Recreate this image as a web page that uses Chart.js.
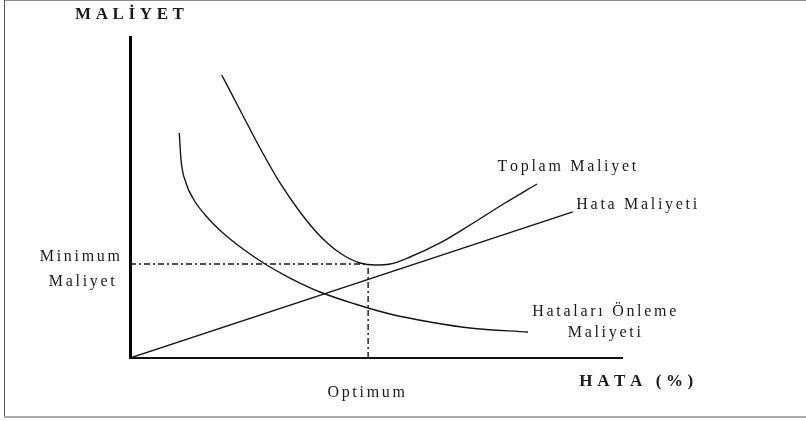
<!DOCTYPE html>
<html>
<head>
<meta charset="utf-8">
<script src="https://cdn.jsdelivr.net/npm/chart.js@4/dist/chart.umd.min.js"></script>
<style>
  html, body { margin: 0; padding: 0; background: #fff; }
  canvas { display: block; }
</style>
</head>
<body>
<canvas id="costChart" width="806" height="421"></canvas>
<script>
// Maliyet eğrileri (x: hata oranı, y: maliyet; eksen 0-100 birim)
const toplamX = [18.64, 22.36, 26.42, 30.49, 34.55, 38.62, 42.68, 46.75, 49.80, 52.85, 56.91, 63.01, 69.11, 76.22, 82.72];
const toplamY = [88.16, 77.26, 65.42, 54.52, 45.48, 38.01, 32.71, 29.60, 28.97, 29.28, 31.46, 35.83, 41.43, 48.29, 54.21];

const onlemeX = [10.02, 10.37, 11.38, 13.01, 15.65, 18.90, 22.97, 27.44, 32.52, 38.62, 45.73, 52.85, 60.98, 69.11, 80.89];
const onlemeY = [70.09, 61.68, 54.52, 49.22, 43.93, 38.94, 33.96, 29.28, 24.92, 20.56, 16.82, 13.71, 11.21, 9.35, 8.10];

const hataX = [0, 90.0];
const hataY = [0, 45.5];

// optimum nokta
const optimumX = 48.4;
const minMaliyet = 29.3;

const toPoints = (xs, ys) => xs.map((x, i) => ({ x: x, y: ys[i] }));

// metin etiketleri (veri koordinatında merkez)
const etiketler = [
    { text: 'MALİYET', x: -0.1, y: 106.9, bold: true },
    { text: 'HATA (%)', x: 102.9, y: -7.5, bold: true },
    { text: 'Optimum', x: 48.0, y: -10.9 },
    { text: 'Minimum', x: -10.2, y: 31.5 },
    { text: 'Maliyet', x: -9.8, y: 23.7 },
    { text: 'Toplam Maliyet', x: 88.8, y: 59.5 },
    { text: 'Hata Maliyeti', x: 103.0, y: 47.7 },
    { text: 'Hataları Önleme', x: 96.4, y: 14.3 },
    { text: 'Maliyeti', x: 96.4, y: 7.8 }
];

function spacedText(ctx, text, cx, cy, spacing) {
    const widths = [...text].map(ch => ctx.measureText(ch).width);
    const total = widths.reduce((a, b) => a + b, 0) + spacing * (widths.length - 1);
    let x = cx - total / 2;
    [...text].forEach((ch, i) => {
        ctx.fillText(ch, x, cy);
        x += widths[i] + spacing;
    });
}

const cercevePlugin = {
    id: 'cerceve',
    beforeDraw(chart) {
        const ctx = chart.ctx;
        ctx.save();
        ctx.fillStyle = '#fff';
        ctx.fillRect(0, 0, chart.width, chart.height);
        ctx.lineWidth = 1;
        ctx.strokeStyle = '#8a8a8a';
        ctx.beginPath(); ctx.moveTo(4, 0.5); ctx.lineTo(chart.width, 0.5); ctx.stroke();
        ctx.strokeStyle = '#555';
        ctx.beginPath(); ctx.moveTo(4.5, 0); ctx.lineTo(4.5, 417); ctx.stroke();
        ctx.lineWidth = 2;
        ctx.strokeStyle = '#aaa';
        ctx.beginPath(); ctx.moveTo(4, 417); ctx.lineTo(chart.width, 417); ctx.stroke();
        ctx.restore();
    }
};

const etiketPlugin = {
    id: 'etiketler',
    afterDraw(chart) {
        const ctx = chart.ctx;
        const sx = chart.scales.x, sy = chart.scales.y;
        ctx.save();
        ctx.fillStyle = '#1a1a1a';
        ctx.textBaseline = 'middle';
        ctx.textAlign = 'left';
        etiketler.forEach(e => {
            ctx.font = e.bold ? "bold 17px 'Liberation Serif'" : "16px 'Liberation Serif'";
            spacedText(ctx, e.text, sx.getPixelForValue(e.x), sy.getPixelForValue(e.y), e.bold ? 4.6 : 2.7);
        });
        ctx.restore();
    }
};

const cizgi = { borderColor: '#151515', borderWidth: 1.4, pointRadius: 0, fill: false, cubicInterpolationMode: 'monotone' };
const kesik = { borderColor: '#151515', borderWidth: 1.4, pointRadius: 0, fill: false, borderDash: [6, 3, 2, 3] };

new Chart(document.getElementById('costChart').getContext('2d'), {
    type: 'line',
    data: {
        datasets: [
            Object.assign({ label: 'Toplam Maliyet', data: toPoints(toplamX, toplamY) }, cizgi),
            Object.assign({ label: 'Hataları Önleme Maliyeti', data: toPoints(onlemeX, onlemeY) }, cizgi),
            Object.assign({ label: 'Hata Maliyeti', data: toPoints(hataX, hataY) }, cizgi),
            Object.assign({ label: 'Minimum Maliyet', data: [{ x: 0, y: minMaliyet }, { x: optimumX, y: minMaliyet }] }, kesik),
            Object.assign({ label: 'Optimum', data: [{ x: optimumX, y: 0 }, { x: optimumX, y: minMaliyet }] }, kesik)
        ]
    },
    options: {
        responsive: false,
        animation: false,
        devicePixelRatio: 1,
        layout: { padding: { left: 130, right: 184, top: 37, bottom: 63 } },
        plugins: {
            legend: { display: false },
            tooltip: { enabled: false }
        },
        scales: {
            x: {
                type: 'linear', min: 0, max: 100,
                ticks: { display: false },
                grid: { display: false, drawTicks: false },
                border: { display: true, color: '#111', width: 2 }
            },
            y: {
                type: 'linear', min: 0, max: 100,
                ticks: { display: false },
                grid: { display: false, drawTicks: false },
                border: { display: true, color: '#000', width: 3 }
            }
        }
    },
    plugins: [cercevePlugin, etiketPlugin]
});
</script>
</body>
</html>
